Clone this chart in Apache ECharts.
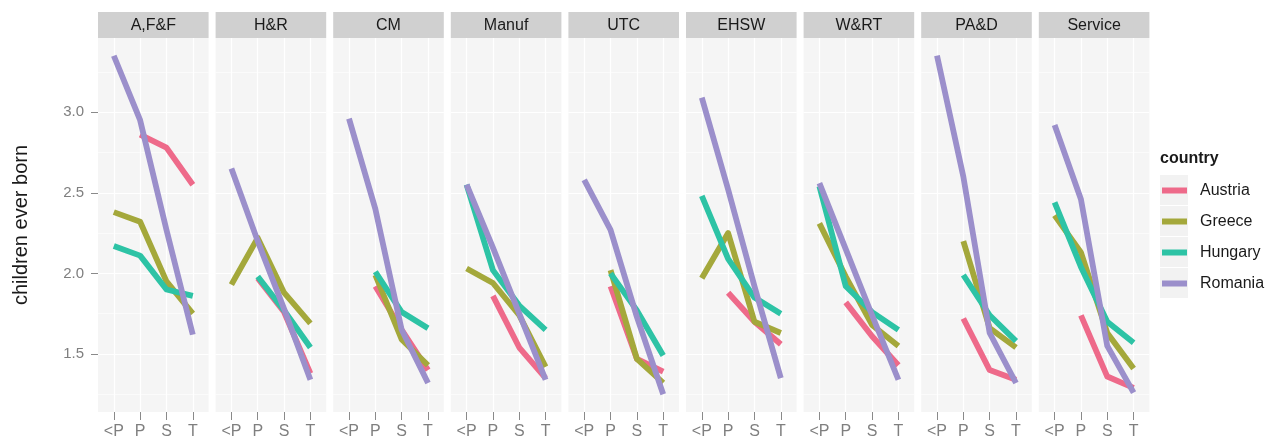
<!DOCTYPE html>
<html>
<head>
<meta charset="utf-8">
<script src="https://cdn.jsdelivr.net/npm/echarts@6/dist/echarts.min.js"></script>
<style>
html,body{margin:0;padding:0;background:#fff;}
#c{width:1280px;height:443px;}
</style>
</head>
<body>
<div id="c"></div>
<script>
// ---- data ----
const countries = ['Austria', 'Greece', 'Hungary', 'Romania'];
const facets = ['A,F&F', 'H&R', 'CM', 'Manuf', 'UTC', 'EHSW', 'W&RT', 'PA&D', 'Service'];
const education = ['<P', 'P', 'S', 'T'];
const yTicks = [1.5, 2.0, 2.5, 3.0];
// values per facet: [<P, P, S, T]
const austria = [
  [null, 2.86, 2.78, 2.55],
  [null, 1.97, 1.76, 1.38],
  [null, 1.92, 1.65, 1.40],
  [null, 1.86, 1.54, 1.35],
  [null, 1.92, 1.47, 1.39],
  [null, 1.88, 1.70, 1.56],
  [null, 1.82, 1.61, 1.43],
  [null, 1.72, 1.40, 1.34],
  [null, 1.74, 1.36, 1.29]
];
const greece = [
  [2.38, 2.32, 1.95, 1.75],
  [1.93, 2.22, 1.88, 1.69],
  [null, 1.99, 1.59, 1.43],
  [2.03, 1.94, 1.74, 1.42],
  [null, 2.02, 1.47, 1.32],
  [1.97, 2.25, 1.70, 1.63],
  [2.31, 1.98, 1.68, 1.55],
  [null, 2.20, 1.66, 1.54],
  [2.36, 2.13, 1.63, 1.41]
];
const hungary = [
  [2.17, 2.11, 1.90, 1.86],
  [null, 1.98, 1.77, 1.54],
  [null, 2.01, 1.76, 1.66],
  [2.55, 2.02, 1.80, 1.65],
  [null, 2.00, 1.77, 1.49],
  [2.48, 2.09, 1.85, 1.75],
  [2.54, 1.92, 1.76, 1.65],
  [null, 1.99, 1.74, 1.58],
  [2.44, 2.04, 1.70, 1.57]
];
const romania = [
  [3.35, 2.95, 2.27, 1.62],
  [2.65, 2.20, 1.78, 1.34],
  [2.96, 2.40, 1.65, 1.32],
  [2.55, 2.16, 1.75, 1.34],
  [2.58, 2.27, 1.73, 1.25],
  [3.09, 2.52, 1.92, 1.35],
  [2.56, 2.15, 1.74, 1.34],
  [3.35, 2.60, 1.63, 1.32],
  [2.92, 2.46, 1.55, 1.26]
];
const seriesData = [austria, greece, hungary, romania];

// ---- style / layout ----
const colors = ['#EE6A8A', '#A4A83B', '#2DC3A5', '#9B8FCB'];
const FONT = '"Liberation Sans", Arial, sans-serif';
const P0 = 98, PITCH = 117.6, PW = 110.6, TOP = 38, H = 374;
const STRIP_TOP = 12, STRIP_H = 26;
const YMIN = 1.14, YMAX = 3.46;
const U = PW / 4.2;

const grid = [], xAxis = [], yAxis = [], series = [], graphic = [];

facets.forEach((f, i) => {
  const left = P0 + i * PITCH;
  // background grid (panel)
  grid.push({ left: left, top: TOP, width: PW, height: H, show: true,
    backgroundColor: '#F5F5F5', borderWidth: 0, z: 0 });
  const bg = grid.length - 1;
  xAxis.push({ gridIndex: bg, type: 'value', show: false, min: 0, max: 1 });
  yAxis.push({
    gridIndex: bg, type: 'value', min: YMIN, max: YMAX, z: 1,
    axisLine: { show: false },
    axisTick: { show: i === 0, length: 7, lineStyle: { color: '#8a8a8a', width: 1 }, customValues: yTicks },
    axisLabel: { show: i === 0, customValues: yTicks,
      formatter: v => v.toFixed(1), fontSize: 15, color: '#7f7f7f', margin: 14, fontFamily: FONT },
    splitLine: { show: true, lineStyle: { color: '#ffffff', width: 1.2 } },
    minorTick: { show: false, splitNumber: 2 },
    minorSplitLine: { show: true, lineStyle: { color: '#ffffff', width: 0.6 } },
    name: i === 0 ? 'children ever born' : '',
    nameLocation: 'middle', nameGap: 67,
    nameTextStyle: { fontSize: 20, color: '#1a1a1a', fontFamily: FONT }
  });
  // data grid
  grid.push({ left: left + 0.6 * U, top: TOP, width: 3 * U, height: H, z: 1 });
  const dg = grid.length - 1;
  xAxis.push({
    gridIndex: dg, type: 'category', data: education, boundaryGap: false, z: 1,
    axisLine: { show: false },
    axisTick: { show: true, length: 8, interval: 0, lineStyle: { color: '#8a8a8a', width: 1 } },
    axisLabel: { interval: 0, fontSize: 16, color: '#7f7f7f', margin: 12, fontFamily: FONT },
    splitLine: { show: true, interval: 0, lineStyle: { color: '#ffffff', width: 1.2 } }
  });
  yAxis.push({ gridIndex: dg, type: 'value', min: YMIN, max: YMAX, show: false, splitLine: { show: false } });
  countries.forEach((c, k) => {
    series.push({
      type: 'line', name: c, xAxisIndex: dg, yAxisIndex: dg,
      data: seriesData[k][i], showSymbol: false, symbol: 'none', clip: false,
      color: colors[k], z: 2 + k * 0.01,
      lineStyle: { color: colors[k], width: 5.8, cap: 'butt', join: 'round' },
      emphasis: { disabled: true }, animation: false
    });
  });
  // strip
  graphic.push({ type: 'rect', shape: { x: left, y: STRIP_TOP, width: PW, height: STRIP_H },
    style: { fill: '#D0D0D0' }, silent: true });
  graphic.push({ type: 'text', x: left + PW / 2, y: STRIP_TOP + STRIP_H / 2 + 1,
    style: { text: f, fill: '#1a1a1a', font: '16px ' + FONT, align: 'center', verticalAlign: 'middle' }, silent: true });
});

// legend key backgrounds and title
countries.forEach((c, k) => {
  graphic.push({ type: 'rect', shape: { x: 1160, y: 175 + k * 31, width: 28, height: 30 },
    style: { fill: '#F2F2F2' }, silent: true, z: -1 });
});
graphic.push({ type: 'text', x: 1160, y: 159,
  style: { text: 'country', fill: '#1a1a1a', font: 'bold 16px ' + FONT, verticalAlign: 'middle' }, silent: true });

const chart = echarts.init(document.getElementById('c'), null, { renderer: 'canvas' });
chart.setOption({
  animation: false,
  backgroundColor: '#ffffff',
  grid, xAxis, yAxis, series, graphic,
  legend: {
    orient: 'vertical', left: 1162, top: 175, padding: 0, itemGap: 0,
    itemWidth: 25, itemHeight: 6, icon: 'rect', selectedMode: false,
    data: countries,
    textStyle: { fontSize: 16, color: '#1a1a1a', fontFamily: FONT, lineHeight: 31, height: 31, padding: [0, 0, 0, 8] }
  }
});
</script>
</body>
</html>
